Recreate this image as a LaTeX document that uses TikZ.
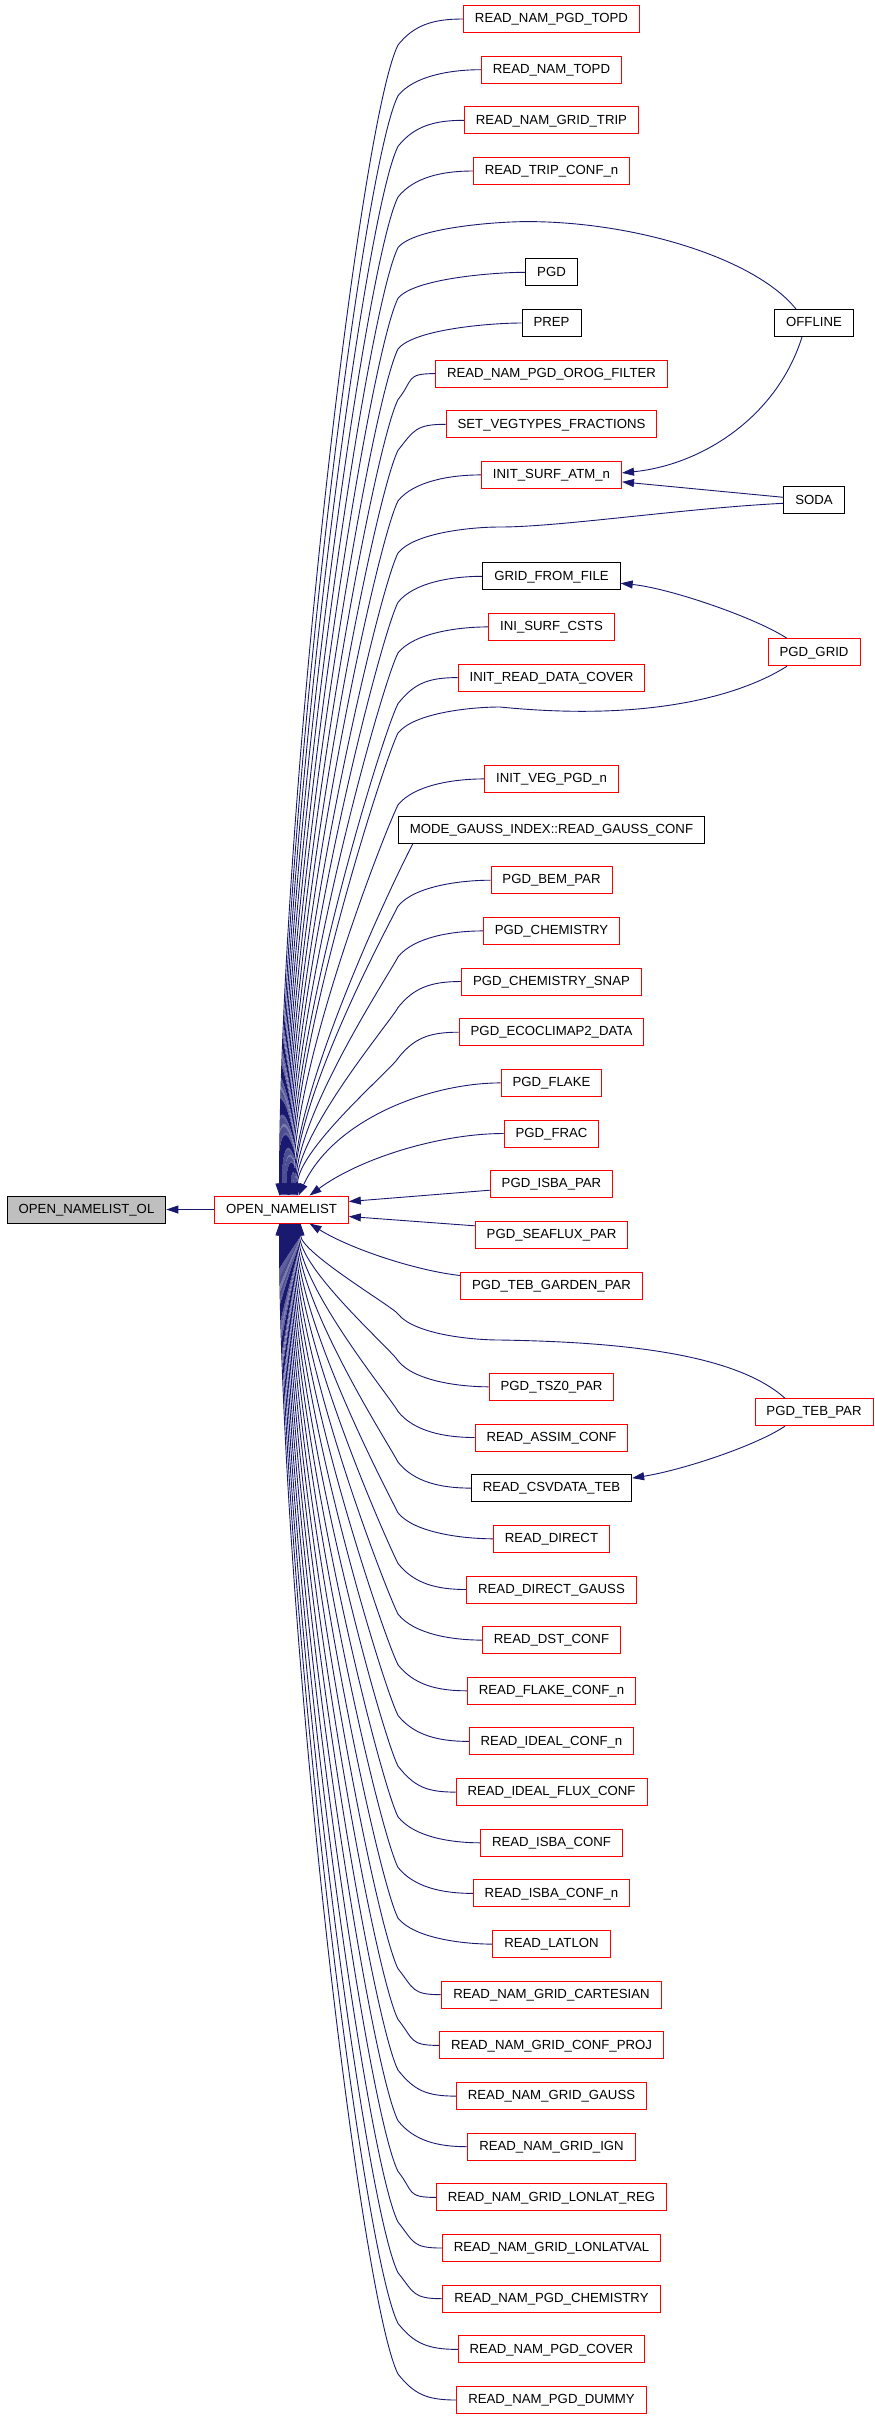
\documentclass[tikz,border=0pt]{standalone}
\usepackage{fontspec}
\setmainfont{Liberation Sans}
\usetikzlibrary{arrows.meta,calc}
\definecolor{edgeblue}{HTML}{191970}
\definecolor{boxgray}{HTML}{BFBFBF}
\tikzset{
  fn/.style={draw=black, line width=0.9pt, inner xsep=11.5pt, inner ysep=0pt,
    minimum height=27pt, text height=9.5pt, text depth=2pt,
    font=\fontsize{13.2}{15}\selectfont},
  fnred/.style={fn, draw=red},
  fnroot/.style={fn, fill=boxgray},
  calledge/.style={edgeblue, line width=0.9pt, -{Triangle[length=12pt,width=8pt]}},
}
% caller above OPEN_NAMELIST: #2 start, #3 row
\newcommand{\upcall}[3][]{%
  \pgfmathsetmacro{\calllen}{(1152-50.66*#3)/3}%
  \pgfmathsetmacro{\calltip}{-2+0.9*#3}%
  \draw[calledge] #1 (#2) .. controls +(-30,0) and +(16,-20) .. ($(#2 -| bendcol)+(0,26)$)
    .. controls +(-0.1*\calllen,0.2*\calllen) and +(0,-\calllen) .. ([xshift=\calltip pt]onl.north);}
% caller below OPEN_NAMELIST
\newcommand{\downcall}[3][]{%
  \pgfmathsetmacro{\calllen}{(50.66*#3-1230)/3}%
  \pgfmathsetmacro{\calltip}{45-#3}%
  \draw[calledge] #1 (#2) .. controls +(-30,0) and +(16,20) .. ($(#2 -| bendcol)+(0,-26)$)
    .. controls +(-0.1*\calllen,-0.2*\calllen) and +(0,\calllen) .. ([xshift=\calltip pt]onl.south);}

\begin{document}
\begin{tikzpicture}[x=1pt,y=-1pt]
  \useasboundingbox (0,0) rectangle (875,2419);

  % the function and its direct caller
  \node[fnroot] (onlol) at (86.5,1209.5) {OPEN\_NAMELIST\_OL};
  \node[fnred] (onl) at (281.5,1209.5) {OPEN\_NAMELIST};

  % callers of OPEN_NAMELIST
  \node[fnred] (rnpgdtopd) at (551.5,19) {READ\_NAM\_PGD\_TOPD};
  \node[fnred] (rntopd) at (551.5,69.7) {READ\_NAM\_TOPD};
  \node[fnred] (rngridtrip) at (551.5,120.3) {READ\_NAM\_GRID\_TRIP};
  \node[fnred] (rtripconf) at (551.5,171) {READ\_TRIP\_CONF\_n};
  \node[fn] (pgd) at (551.5,272.3) {PGD};
  \node[fn] (prep) at (551.5,323) {PREP};
  \node[fnred] (rnorog) at (551.5,373.6) {READ\_NAM\_PGD\_OROG\_FILTER};
  \node[fnred] (setveg) at (551.5,424.3) {SET\_VEGTYPES\_FRACTIONS};
  \node[fnred] (initsurfatm) at (551.5,474.9) {INIT\_SURF\_ATM\_n};
  \node[fn] (gridfile) at (551.5,576.3) {GRID\_FROM\_FILE};
  \node[fnred] (inicsts) at (551.5,626.9) {INI\_SURF\_CSTS};
  \node[fnred] (initcover) at (551.5,677.6) {INIT\_READ\_DATA\_COVER};
  \node[fnred] (initveg) at (551.5,778.9) {INIT\_VEG\_PGD\_n};
  \node[fn] (gaussconf) at (551.5,829.6) {MODE\_GAUSS\_INDEX::READ\_GAUSS\_CONF};
  \node[fnred] (bempar) at (551.5,880.2) {PGD\_BEM\_PAR};
  \node[fnred] (pgdchem) at (551.5,930.9) {PGD\_CHEMISTRY};
  \node[fnred] (chemsnap) at (551.5,981.5) {PGD\_CHEMISTRY\_SNAP};
  \node[fnred] (ecoclimap) at (551.5,1032.2) {PGD\_ECOCLIMAP2\_DATA};
  \node[fnred] (pgdflake) at (551.5,1082.9) {PGD\_FLAKE};
  \node[fnred] (pgdfrac) at (551.5,1133.5) {PGD\_FRAC};
  \node[fnred] (isbapar) at (551.5,1184.2) {PGD\_ISBA\_PAR};
  \node[fnred] (seafluxpar) at (551.5,1234.8) {PGD\_SEAFLUX\_PAR};
  \node[fnred] (gardenpar) at (551.5,1285.5) {PGD\_TEB\_GARDEN\_PAR};
  \node[fnred] (tszpar) at (551.5,1386.8) {PGD\_TSZ0\_PAR};
  \node[fnred] (assimconf) at (551.5,1437.5) {READ\_ASSIM\_CONF};
  \node[fn] (csvteb) at (551.5,1488.1) {READ\_CSVDATA\_TEB};
  \node[fnred] (rdirect) at (551.5,1538.8) {READ\_DIRECT};
  \node[fnred] (rdirectgauss) at (551.5,1589.5) {READ\_DIRECT\_GAUSS};
  \node[fnred] (dstconf) at (551.5,1640.1) {READ\_DST\_CONF};
  \node[fnred] (flakeconf) at (551.5,1690.8) {READ\_FLAKE\_CONF\_n};
  \node[fnred] (idealconf) at (551.5,1741.4) {READ\_IDEAL\_CONF\_n};
  \node[fnred] (idealflux) at (551.5,1792.1) {READ\_IDEAL\_FLUX\_CONF};
  \node[fnred] (isbaconf) at (551.5,1842.8) {READ\_ISBA\_CONF};
  \node[fnred] (isbaconfn) at (551.5,1893.4) {READ\_ISBA\_CONF\_n};
  \node[fnred] (latlon) at (551.5,1944.1) {READ\_LATLON};
  \node[fnred] (rncartesian) at (551.5,1994.7) {READ\_NAM\_GRID\_CARTESIAN};
  \node[fnred] (rnconfproj) at (551.5,2045.4) {READ\_NAM\_GRID\_CONF\_PROJ};
  \node[fnred] (rngauss) at (551.5,2096.1) {READ\_NAM\_GRID\_GAUSS};
  \node[fnred] (rnign) at (551.5,2146.7) {READ\_NAM\_GRID\_IGN};
  \node[fnred] (rnlonlatreg) at (551.5,2197.4) {READ\_NAM\_GRID\_LONLAT\_REG};
  \node[fnred] (rnlonlatval) at (551.5,2248) {READ\_NAM\_GRID\_LONLATVAL};
  \node[fnred] (rnpgdchem) at (551.5,2298.7) {READ\_NAM\_PGD\_CHEMISTRY};
  \node[fnred] (rnpgdcover) at (551.5,2349.4) {READ\_NAM\_PGD\_COVER};
  \node[fnred] (rnpgddummy) at (551.5,2400) {READ\_NAM\_PGD\_DUMMY};

  % second level callers
  \node[fn] (offline) at (814,323) {OFFLINE};
  \node[fn] (soda) at (814,500.3) {SODA};
  \node[fnred] (pgdgrid) at (814,652.3) {PGD\_GRID};
  \node[fnred] (pgdteb) at (814,1412.2) {PGD\_TEB\_PAR};

  % where the edges bend and pass through
  \coordinate (bendcol) at (398,0);
  \coordinate (voff) at (527,221.6);
  \coordinate (vsoda) at (500,527);
  \coordinate (vgrid) at (500,707);
  \coordinate (vteb) at (500,1340);

  \draw[calledge] (onl) -- (onlol);

  \upcall{rnpgdtopd.west}{0}
  \upcall{rntopd.west}{1}
  \upcall{rngridtrip.west}{2}
  \upcall{rtripconf.west}{3}
  \upcall[{([xshift=-18pt]offline.north) .. controls +(-40,-50) and +(110,0) ..}]{voff}{4}
  \upcall{pgd.west}{5}
  \upcall{prep.west}{6}
  \upcall{rnorog.west}{7}
  \upcall{setveg.west}{8}
  \upcall{initsurfatm.west}{9}
  \upcall[{([yshift=-3pt]soda.west) .. controls +(-100,5) and +(60,0) ..}]{vsoda}{10}
  \upcall{gridfile.west}{11}
  \upcall{inicsts.west}{12}
  \upcall{initcover.west}{13}
  \upcall[{([xshift=-27pt]pgdgrid.south) .. controls +(-46,29) and +(150,15) ..}]{vgrid}{14}
  \upcall{initveg.west}{15}
  \draw[calledge] ([xshift=15pt]gaussconf.south west) .. controls +(-12,22) and +(0,-110) .. ([xshift=12.4pt]onl.north);
  \upcall{bempar.west}{17}
  \upcall{pgdchem.west}{18}
  \upcall{chemsnap.west}{19}
  \upcall{ecoclimap.west}{20}
  \draw[calledge] (pgdflake.west) .. controls +(-70,0) and +(36,-77) .. ([xshift=17pt]onl.north);
  \draw[calledge] (pgdfrac.west) .. controls +(-64,0) and +(50,-37) .. ([xshift=28pt]onl.north);
  \draw[calledge] ([yshift=-6pt]isbapar.west) -- ([yshift=8pt]onl.east);
  \draw[calledge] ([yshift=9pt]seafluxpar.west) -- ([yshift=-7pt]onl.east);
  \draw[calledge] ([yshift=10pt]gardenpar.west) .. controls +(-45,-5) and +(40,25) .. ([xshift=28pt]onl.south);
  \downcall[{([xshift=-29pt]pgdteb.north) .. controls +(-50,-45) and +(120,2) ..}]{vteb}{26}
  \downcall{tszpar.west}{27}
  \downcall{assimconf.west}{28}
  \downcall{csvteb.west}{29}
  \downcall{rdirect.west}{30}
  \downcall{rdirectgauss.west}{31}
  \downcall{dstconf.west}{32}
  \downcall{flakeconf.west}{33}
  \downcall{idealconf.west}{34}
  \downcall{idealflux.west}{35}
  \downcall{isbaconf.west}{36}
  \downcall{isbaconfn.west}{37}
  \downcall{latlon.west}{38}
  \downcall{rncartesian.west}{39}
  \downcall{rnconfproj.west}{40}
  \downcall{rngauss.west}{41}
  \downcall{rnign.west}{42}
  \downcall{rnlonlatreg.west}{43}
  \downcall{rnlonlatval.west}{44}
  \downcall{rnpgdchem.west}{45}
  \downcall{rnpgdcover.west}{46}
  \downcall{rnpgddummy.west}{47}

  % calls into the middle column
  \draw[calledge] ([xshift=-12pt]offline.south) .. controls +(-25,80) and +(80,-8) .. ([yshift=2pt]initsurfatm.east);
  \draw[calledge] ([yshift=3pt]soda.west) -- ([yshift=-7pt]initsurfatm.east);
  \draw[calledge] ([xshift=-27pt]pgdgrid.north) .. controls +(-30,-20) and +(50,5) .. ([yshift=-7pt]gridfile.east);
  \draw[calledge] ([xshift=-29pt]pgdteb.south) .. controls +(-30,20) and +(50,-8) .. ([yshift=10pt]csvteb.east);
\end{tikzpicture}
\end{document}
